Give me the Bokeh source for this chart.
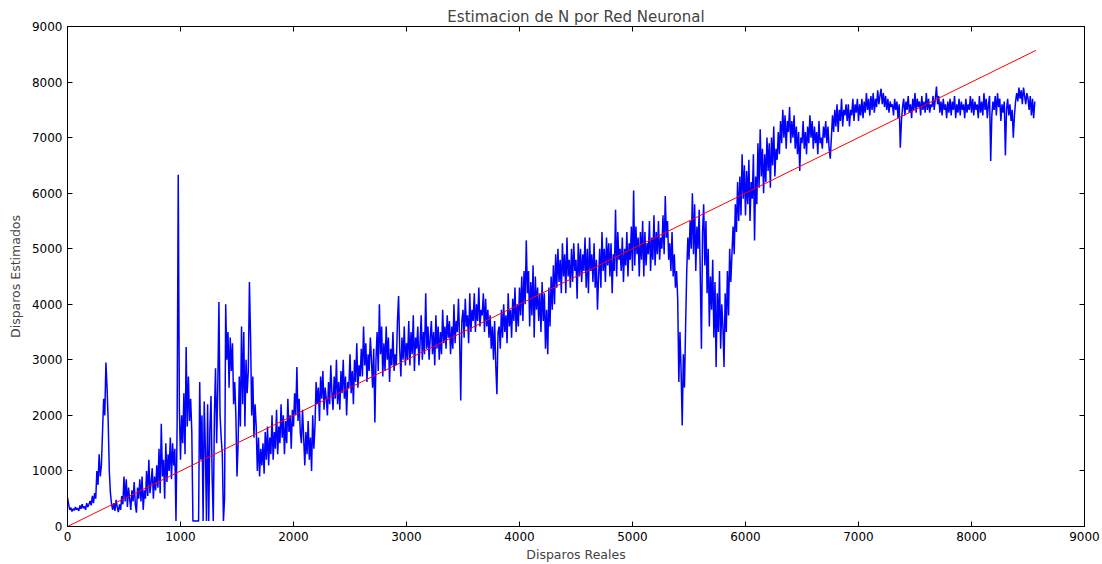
from bokeh.plotting import figure
from bokeh.models import LinearAxis, Range1d, FixedTicker, CustomJSTickFormatter
from bokeh.embed import file_html
from bokeh.resources import INLINE

estimados = [
    520, 400, 300, 340, 270, 320, 290, 350, 300, 330,
    280, 380, 320, 400, 330, 360, 300, 420, 350, 400,
    460, 380, 550, 420, 600, 500, 1000, 750, 1300, 900,
    1100, 1700, 2300, 2000, 2950, 2500, 1900, 1000, 600, 400,
    300, 420, 280, 480, 350, 260, 400, 300, 550, 400,
    900, 450, 850, 350, 700, 500, 300, 650, 450, 800,
    400, 250, 700, 500, 850, 450, 900, 300, 650, 500,
    1000, 550, 1200, 600, 800, 1050, 500, 900, 650, 1100,
    700, 1400, 600, 1850, 900, 1200, 500, 1500, 800, 1300,
    1000, 1600, 850, 1500, 1100, 1400, 100, 1800, 6330, 2100,
    1200, 2000, 1500, 2400, 1300, 3230, 1800, 2700, 1900, 2300,
    1700, 100, 100, 100, 100, 100, 100, 2600, 1200, 2000,
    100, 2250, 1400, 100, 2200, 100, 1750, 2350, 900, 100,
    2000, 2850, 1500, 2500, 4040, 2000, 1600, 1300, 100, 500,
    4000, 3000, 3500, 2500, 3400, 2800, 3300, 2200, 2600, 2000,
    900, 1500, 2700, 1800, 3600, 2200, 3500, 1800, 3000, 2400,
    2800, 4400, 3400, 2000, 2700, 1600, 2200, 1800, 1000, 1600,
    900, 1400, 1100, 1500, 950, 1700, 1200, 1800, 1100, 1600,
    1300, 2000, 1200, 1700, 1400, 2100, 1300, 1800, 1500, 2200,
    1600, 2000, 1300, 1900, 1500, 2300, 1700, 2000, 1400, 2100,
    1800, 2400, 2000, 2870, 1900, 2300, 1700, 1500, 2100, 1600,
    1100, 1700, 1300, 1900, 1200, 1600, 1000, 2000, 1400, 1800,
    2600, 2200, 2500, 1900, 2700, 2300, 2800, 2100, 2500, 2300,
    2000, 2600, 2200, 2900, 2400, 2100, 2700, 2300, 3000, 2200,
    2600, 2100, 2800, 2400, 3000, 2300, 2700, 2000, 2600, 2500,
    3100, 2400, 2800, 2200, 3000, 2600, 3300, 2500, 2900, 2700,
    3200, 2700, 3600, 2900, 3300, 2600, 3100, 2800, 3400, 3000,
    2500, 3200, 1870, 3000, 3500, 2800, 4000, 3100, 3600, 2700,
    3300, 2800, 3600, 3000, 3400, 2600, 3200, 2900, 3500, 2800,
    3100, 2900, 3700, 4150, 3200, 2700, 3400, 3000, 3600, 2900,
    3300, 3000, 3700, 2900, 3500, 3100, 3800, 2800, 3400, 3200,
    3600, 2900, 3300, 3800, 3000, 3500, 3100, 4200, 3200, 3600,
    3000, 3400, 3700, 3100, 3500, 2900, 3800, 3200, 3600, 3000,
    3500, 3100, 3900, 3300, 3600, 3200, 3800, 3400, 3700, 3100,
    3600, 3200, 4000, 3300, 3700, 3500, 4100, 3400, 2270, 3700,
    3900, 3400, 4100, 3600, 3800, 3300, 4200, 3500, 3900, 3700,
    4200, 3500, 4000, 3700, 4300, 3600, 3900, 3800, 4200, 3500,
    4100, 3600, 3900, 3400, 3800, 3200, 3600, 3000, 3700, 2900,
    2380, 3500, 3600, 3200, 3900, 3400, 4000, 3500, 3800, 3300,
    4200, 3600, 3900, 3400, 4100, 3700, 4300, 3500, 4000, 3600,
    4300, 3800, 4500, 3700, 4600, 4000, 5150, 4200, 4600, 3600,
    4400, 3800, 4700, 3400, 4500, 3900, 4300, 3700, 4200, 3500,
    4400, 3700, 4200, 3200, 3900, 3100, 4300, 3600, 4500, 3900,
    4700, 4000, 4900, 4300, 5000, 4400, 4800, 4200, 5100, 4500,
    4900, 4200, 5200, 4500, 4800, 4300, 5000, 4400, 5100, 4600,
    4800, 4100, 5100, 4500, 5000, 4400, 4900, 4600, 5200, 4300,
    5000, 4200, 5200, 4600, 4900, 4400, 5100, 4300, 4800, 3900,
    4500, 5000, 4300, 5300, 4600, 5000, 4400, 5200, 4700, 5100,
    4500, 5100, 4200, 4900, 4600, 5700, 4500, 5300, 4800, 5000,
    4600, 5200, 4400, 5000, 4700, 5300, 4500, 5100, 4800, 5400,
    4600, 6050, 4700, 5400, 4900, 5200, 4500, 5300, 4800, 5500,
    4500, 5300, 4700, 5100, 4900, 5500, 4600, 5200, 4800, 5600,
    4700, 5300, 4900, 5500, 4800, 5200, 5000, 5600, 4900, 5950,
    5200, 5500, 4800, 5100, 4600, 5300, 4500, 4900, 4300, 4600,
    4100, 2600, 3500, 2800, 1820, 3100, 2500, 3600, 4600, 5200,
    4800, 5500, 5000, 6000, 4900, 5800, 4600, 5400, 5000, 5700,
    4500, 3200, 5300, 5800, 4700, 5500, 4200, 5000, 3600, 4500,
    3900, 4800, 3400, 4400, 2870, 4200, 3500, 4600, 3200, 4000,
    3600, 2870, 4200, 3500, 4600, 3800, 5000, 4400, 4900, 5400,
    4900, 5800, 5300, 6200, 5500, 6300, 5600, 6700, 5900, 6500,
    5600, 6400, 5800, 6600, 5500, 6200, 5900, 6700, 5150, 6300,
    5800, 6900, 6100, 7150, 6300, 6800, 6000, 6700, 6200, 7000,
    6400, 6900, 6100, 7000, 6500, 7200, 6300, 6800, 6600, 7100,
    6700, 7300, 6900, 7500, 7000, 7400, 6800, 7300, 7100, 7550,
    6900, 7300, 7000, 7400, 6800, 7200, 6700, 7100, 6400, 7000,
    6900, 7300, 6800, 7100, 6700, 7200, 6900, 7400, 7000, 7300,
    6800, 7200, 6900, 7100, 6700, 7300, 6900, 7000, 6800, 7200,
    7000, 7300, 6900, 7200, 6800, 6620, 7000, 7400, 7100, 7500,
    7200, 7600, 7100, 7500, 7300, 7700, 7200, 7500, 7400, 7600,
    7300, 7600, 7200, 7500, 7400, 7700, 7300, 7600, 7450, 7700,
    7300, 7600, 7400, 7700, 7350, 7650, 7450, 7800, 7500, 7700,
    7400, 7750, 7500, 7800, 7450, 7700, 7550, 7850, 7600, 7750,
    7880, 7600, 7800, 7550, 7750, 7500, 7700, 7450, 7650, 7550,
    7600, 7400, 7700, 7500, 7650, 7350, 7600, 6820, 7300, 7550,
    7700, 7400, 7650, 7500, 7750, 7450, 7600, 7350, 7700, 7500,
    7800, 7450, 7700, 7550, 7650, 7400, 7750, 7500, 7650, 7450,
    7800, 7500, 7700, 7450, 7600, 7550, 7750, 7500, 7700, 7920,
    7600, 7750, 7450, 7650, 7400, 7700, 7500, 7600, 7350, 7650,
    7450, 7700, 7400, 7650, 7500, 7750, 7350, 7600, 7450, 7700,
    7400, 7650, 7500, 7600, 7350, 7700, 7450, 7600, 7500, 7750,
    7450, 7700, 7400, 7650, 7500, 7600, 7350, 7750, 7450, 7650,
    7400, 7800, 7500, 7700, 7350, 7600, 7750, 6580, 7400, 7650,
    7500, 7750, 7400, 7800, 7550, 7700, 7300, 7600, 7450, 7650,
    6680, 7500, 7700, 7400, 7600, 7300, 7500, 7000, 7400, 7650,
    7800, 7650, 7900, 7700, 7850, 7600, 7900, 7750, 7600, 7800,
    7700, 7500, 7750, 7400, 7700, 7350, 7650,
]
reales = list(range(0, 10 * len(estimados), 10))

ideal_x = [0, 8570]
ideal_y = [0, 8570]

x_ticks = [0, 1000, 2000, 3000, 4000, 5000, 6000, 7000, 8000, 9000]
y_ticks = [0, 1000, 2000, 3000, 4000, 5000, 6000, 7000, 8000, 9000]

FONT = "DejaVu Sans"

p = figure(width=1102, height=564, output_backend="svg", toolbar_location=None,
           x_range=Range1d(0, 9000), y_range=Range1d(0, 9000),
           title="Estimacion de N por Red Neuronal",
           min_border_left=67, min_border_right=18, min_border_top=26, min_border_bottom=38)

p.line(reales, estimados, line_color="#0000ff", line_width=1.5)
p.line(ideal_x, ideal_y, line_color="#ff0000", line_width=1)

p.xgrid.visible = False
p.ygrid.visible = False
p.outline_line_color = "black"
p.outline_line_width = 1
p.background_fill_color = "white"
p.border_fill_color = "white"

p.title.text_font = FONT
p.title.text_font_size = "15px"
p.title.text_font_style = "normal"
p.title.align = "center"
p.title.standoff = 2

def style(ax, labels=True):
    ax.axis_line_color = "black"
    ax.major_tick_line_color = "black"
    ax.major_tick_in = 5
    ax.major_tick_out = 0
    ax.minor_tick_line_color = None
    ax.major_label_text_font = FONT
    ax.major_label_text_font_size = "12px"
    ax.major_label_text_color = "black"
    ax.major_label_standoff = 5 if labels else 0
    ax.axis_label_text_font = FONT
    ax.axis_label_text_font_size = "12.5px"
    ax.axis_label_text_font_style = "normal"
    ax.axis_label_standoff = 6
    if not labels:
        ax.formatter = CustomJSTickFormatter(code="return '';")

p.xaxis.ticker = FixedTicker(ticks=x_ticks)
p.yaxis.ticker = FixedTicker(ticks=y_ticks)
p.xaxis.axis_label = "Disparos Reales"
p.yaxis.axis_label = "Disparos Estimados"
style(p.xaxis[0])
style(p.yaxis[0])
p.xaxis[0].axis_label_standoff = 3

top = LinearAxis(ticker=FixedTicker(ticks=x_ticks))
right = LinearAxis(ticker=FixedTicker(ticks=y_ticks))
style(top, labels=False)
style(right, labels=False)
p.add_layout(top, "above")
p.add_layout(right, "right")

open("out.html", "w").write(file_html(p, INLINE))
